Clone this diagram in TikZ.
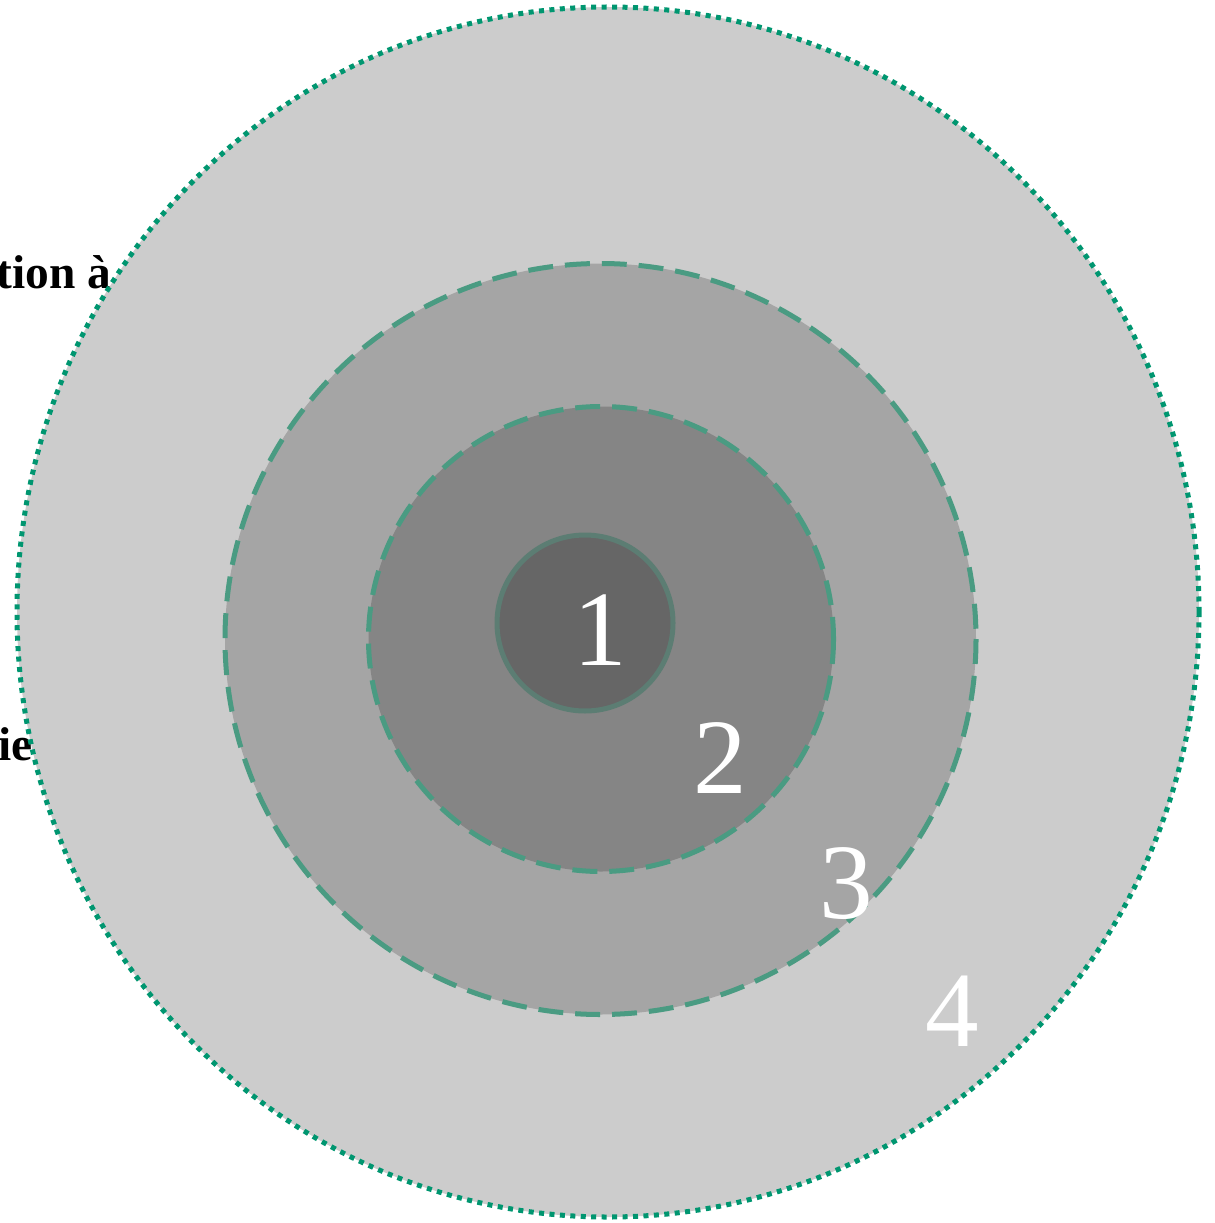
\documentclass[tikz,border=0pt]{standalone}
\usepackage{fontspec}
\setmainfont{Liberation Serif}
\usepackage{tikz}
\usetikzlibrary{positioning}
\definecolor{ringout}{RGB}{204,204,204}
\definecolor{ringthree}{RGB}{165,165,165}
\definecolor{ringtwo}{RGB}{133,133,133}
\definecolor{ringone}{RGB}{102,102,102}
\definecolor{dotgreen}{RGB}{0,150,112}
\definecolor{dashgreen}{RGB}{74,155,130}
\definecolor{coregreen}{RGB}{92,125,115}
\tikzset{
  dotring/.style={fill=ringout,draw=dotgreen,line width=2.85pt,
    dash pattern=on 2.85pt off 3.1pt},
  dashring/.style={draw=dashgreen,line width=2.85pt,
    dash pattern=on 14.2pt off 6.8pt},
  corering/.style={fill=ringone,draw=coregreen,line width=2.85pt},
  zonelbl/.style={text=white,font=\fontsize{61}{61}\selectfont,inner sep=0pt,anchor=base},
  sidelbl/.style={font=\fontsize{27}{30}\selectfont\bfseries,inner sep=0pt,anchor=base east},
}

\begin{document}
\begin{tikzpicture}[x=0.02cm,y=-0.02cm]
  \useasboundingbox (0,0) rectangle (1214,1223);

  % side texts, partly hidden by the outer ring
  \node[sidelbl] (lbltop) at (112,288) {tion à};
  \node[sidelbl] (lblbot) at (33,760) {ie};

  % rings, outside in
  \draw[dotring] (608,612) ellipse [x radius=591,y radius=605];
  \draw[dashring,fill=ringthree] (600.5,639) circle [radius=375.5];
  \draw[dashring,fill=ringtwo] (601,639) circle [radius=232.5];
  \draw[corering] (585,623) circle [radius=88];

  % zone numbers
  \node[zonelbl] (one) at (600,665) {1};
  \node[zonelbl] (two) at (720,793) {2};
  \node[zonelbl] (three) at (846,918) {3};
  \node[zonelbl] (four) at (952,1046) {4};
\end{tikzpicture}
\end{document}
